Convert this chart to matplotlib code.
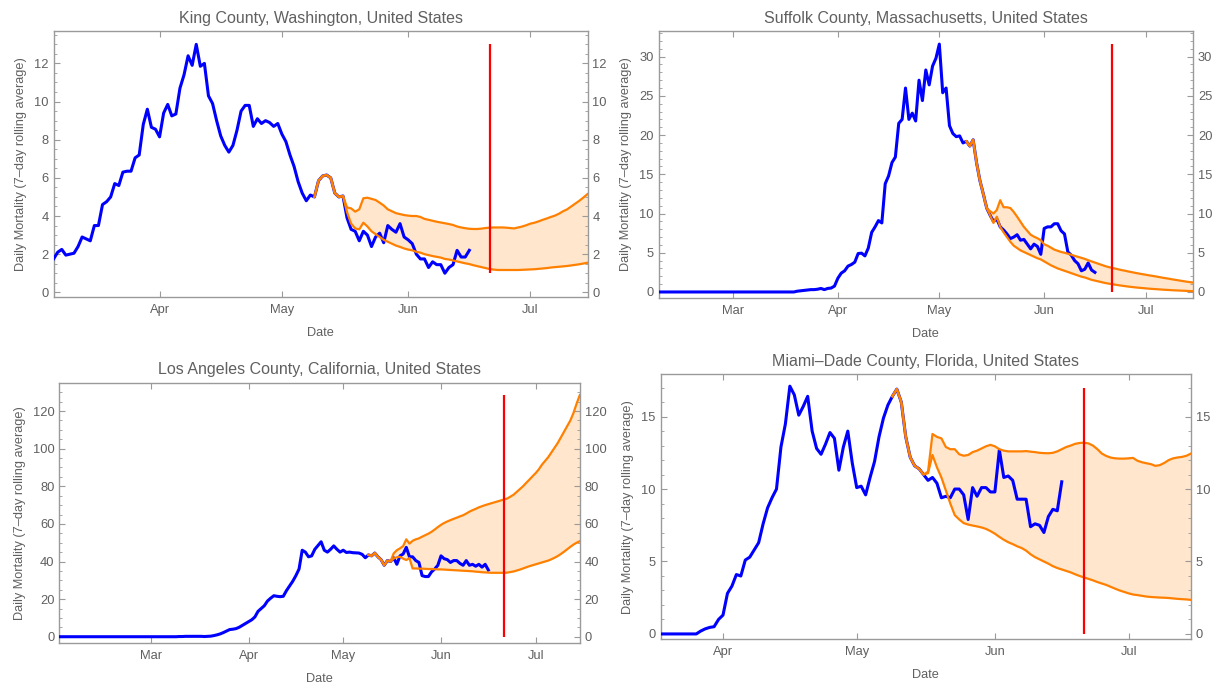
import matplotlib
matplotlib.use("Agg")
import matplotlib.pyplot as plt
import matplotlib.dates as mdates
from matplotlib.ticker import AutoMinorLocator, FixedLocator
import pandas as pd

plt.rcParams['font.family'] = ['Liberation Sans', 'DejaVu Sans']

# common dates
proj_start = "2020-05-09"
cutoff_date = "2020-06-21"
end_date = "2020-07-15"

# King County, WA
king_title = "King County, Washington, United States"
king_start = "2020-03-06"
king_obs = [
    1.75, 2.1, 2.25, 1.95, 2.0, 2.05, 2.4, 2.9, 2.8, 2.7,
    3.5, 3.5, 4.6, 4.75, 5.0, 5.7, 5.6, 6.3, 6.35, 6.35,
    7.05, 7.2, 8.8, 9.6, 8.65, 8.55, 8.15, 9.4, 9.85, 9.25,
    9.35, 10.7, 11.4, 12.4, 11.9, 13.0, 11.85, 12.0, 10.3, 9.9,
    9.0, 8.2, 7.7, 7.35, 7.7, 8.5, 9.5, 9.8, 9.8, 8.7,
    9.1, 8.85, 9.0, 8.9, 8.7, 8.85, 8.3, 7.9, 7.2, 6.6,
    5.8, 5.2, 4.8, 5.1, 5.0, 5.85, 6.1, 6.15, 6.0, 5.2,
    5.0, 5.05, 3.9, 3.3, 3.2, 2.7, 3.2, 3.0, 2.4, 2.9,
    3.1, 2.6, 3.5, 3.3, 3.15, 3.6, 2.9, 2.75, 2.55, 2.0,
    1.75, 1.75, 1.3, 1.6, 1.45, 1.45, 1.0, 1.3, 1.45, 2.2,
    1.85, 1.85, 2.2,
]
king_upper = [
    5.0, 5.85, 6.1, 6.15, 6.0, 5.2, 5.0, 5.05,
    4.45, 4.4, 4.23, 4.35, 4.93, 4.96, 4.9, 4.84, 4.7, 4.55,
    4.35, 4.25, 4.15, 4.1, 4.05, 4.02, 4.0, 4.0, 3.95, 3.85,
    3.8, 3.75, 3.7, 3.66, 3.62, 3.58, 3.53,
    3.45, 3.4, 3.36, 3.33, 3.32, 3.32, 3.34, 3.37, 3.39, 3.4,
    3.4, 3.4, 3.39, 3.37, 3.35, 3.4, 3.45, 3.52, 3.6, 3.65,
    3.72, 3.8, 3.87, 3.95, 4.02, 4.12, 4.25, 4.35, 4.5, 4.65,
    4.8, 4.97, 5.15,
]
king_lower = [
    5.0, 5.85, 6.1, 6.15, 6.0, 5.2, 5.0, 5.05,
    4.2, 3.6, 3.35, 3.3, 3.65, 3.45, 3.2, 3.05, 2.9, 2.75,
    2.65, 2.55, 2.45, 2.38, 2.3, 2.24, 2.2, 2.12, 2.08, 2.0,
    1.95, 1.9, 1.86, 1.82, 1.75, 1.72, 1.67, 1.62, 1.57, 1.52,
    1.48, 1.42, 1.37, 1.32, 1.27, 1.22, 1.19, 1.17, 1.17, 1.17,
    1.17, 1.17, 1.17, 1.18, 1.19, 1.2, 1.21, 1.23, 1.25, 1.27,
    1.3, 1.32, 1.34, 1.36, 1.38, 1.41, 1.44, 1.47, 1.51, 1.55,
]
king_cut = [1.0, 13.0]
king_yticks = [0, 2, 4, 6, 8, 10, 12]

# Suffolk County, MA
suffolk_title = "Suffolk County, Massachusetts, United States"
suffolk_start = "2020-02-08"
suffolk_obs = [
    0, 0, 0, 0, 0, 0, 0, 0, 0, 0,
    0, 0, 0, 0, 0, 0, 0, 0, 0, 0,
    0, 0, 0, 0, 0, 0, 0, 0, 0, 0,
    0, 0, 0, 0, 0, 0, 0, 0, 0, 0,
    0.0, 0.1, 0.15, 0.2, 0.25, 0.3, 0.3, 0.35, 0.45, 0.3,
    0.45, 0.5, 0.75, 1.75, 2.4, 2.7, 3.3, 3.5, 3.8, 4.9,
    4.95, 4.6, 5.6, 7.6, 8.3, 9.1, 8.8, 13.8, 14.8, 16.5,
    17.2, 21.5, 22.0, 26.0, 22.0, 22.8, 21.8, 27.0, 24.4, 28.3,
    26.4, 28.8, 29.8, 31.6, 25.4, 26.0, 21.2, 20.2, 19.8, 19.9,
    19.0, 19.2, 18.6, 19.4, 16.5, 14.2, 12.5, 10.7, 9.8, 9.0,
    9.3, 8.3, 7.9, 7.4, 6.8, 7.0, 7.3, 6.6, 6.7, 6.1,
    5.5, 6.1, 5.8, 4.8, 8.1, 8.3, 8.3, 8.7, 8.7, 7.8,
    7.4, 5.1, 4.7, 4.0, 3.6, 2.7, 2.9, 3.7, 2.8, 2.5,
]
suffolk_upper = [
    19.2, 18.6, 19.4, 16.5, 14.2, 12.5, 10.7,
    10.3, 10.0, 10.45, 11.7, 10.8, 10.8, 10.7, 10.2, 9.6, 8.95,
    8.3, 7.8, 7.3, 7.05, 6.85, 6.6,
    6.08, 5.9, 5.65, 5.4, 5.25, 5.1, 5.0, 4.88, 4.75, 4.6,
    4.48, 4.35, 4.22, 4.05, 3.9, 3.75, 3.6, 3.45, 3.3, 3.18,
    3.08, 2.98, 2.88, 2.78, 2.7, 2.6, 2.52, 2.43, 2.35, 2.27,
    2.2, 2.12, 2.05, 1.98, 1.9, 1.82, 1.75, 1.68, 1.6, 1.53,
    1.46, 1.39, 1.32, 1.26, 1.2,
]
suffolk_lower = [
    19.2, 18.6, 19.4, 16.5, 14.2, 12.5, 10.7,
    9.8, 8.8, 9.6, 8.3, 7.6, 7.0, 6.4, 5.9, 5.6, 5.3,
    5.1, 4.9, 4.7, 4.5, 4.3, 4.15, 3.9, 3.65, 3.4, 3.2,
    3.0, 2.85, 2.7, 2.55, 2.4, 2.25, 2.1, 1.95, 1.85, 1.7,
    1.55, 1.45, 1.35, 1.25, 1.15, 1.07, 1.0, 0.93, 0.86, 0.8,
    0.74, 0.68, 0.63, 0.58, 0.54, 0.5, 0.46, 0.42, 0.39, 0.36,
    0.33, 0.3, 0.27, 0.25, 0.22, 0.2, 0.18, 0.16, 0.14, 0.12,
    0.1,
]
suffolk_cut = [0.0, 31.6]
suffolk_yticks = [0, 5, 10, 15, 20, 25, 30]

# Los Angeles County, CA
la_title = "Los Angeles County, California, United States"
la_start = "2020-02-01"
la_obs = [
    0, 0, 0, 0, 0, 0, 0, 0, 0, 0,
    0, 0, 0, 0, 0, 0, 0, 0, 0, 0,
    0, 0, 0, 0, 0, 0, 0, 0, 0, 0,
    0, 0, 0, 0, 0, 0, 0, 0,
    0.1, 0.1, 0.2, 0.2, 0.2, 0.2, 0.2, 0.2, 0.1, 0.2,
    0.3, 0.6, 1.0, 1.5, 2.2, 3.0, 3.8, 4.0, 4.3, 5.0,
    6.0, 7.0, 8.0, 9.0, 10.5, 13.5, 15.0, 16.5, 19.0, 20.5,
    21.8, 21.5, 21.3, 21.5, 24.5, 27.0, 29.5, 32.5, 36.0, 46.0,
    45.0, 42.5, 43.0, 46.5, 48.5, 50.5, 46.0, 45.0, 46.5, 48.3,
    46.5, 45.0,
    46.0, 44.8, 45.0, 44.7, 44.6, 44.5, 43.8, 42.0, 43.5, 43.0,
    44.5, 42.5, 41.0, 38.0, 40.5, 40.0, 42.0, 38.5, 43.0, 44.0,
    47.5, 42.5, 42.5, 40.5, 39.5, 32.5, 32.0, 32.0, 34.5, 36.0,
    38.0, 43.0, 41.5, 41.0, 39.5, 40.5, 40.5, 39.0, 38.0, 40.5,
    38.0, 38.5, 37.5, 38.5, 37.0, 38.5, 35.5,
]
la_upper = [
    43.5, 43.0, 44.5, 42.5, 41.0, 38.0, 40.5, 40.0,
    44.3, 46.0, 47.0, 48.2, 51.8, 49.5, 51.0, 51.8, 52.3, 53.2,
    54.0, 54.8, 55.8, 57.0, 58.3, 59.5, 60.5, 61.3, 62.0, 62.7,
    63.3, 64.0, 64.6, 65.5, 66.5, 67.3, 68.0, 68.8, 69.4, 70.0,
    70.5, 71.0, 71.5, 72.0, 72.5, 73.0, 73.5, 74.5, 75.5, 77.0,
    78.5, 80.0, 81.8, 83.5, 85.3, 87.0, 89.0, 91.5, 93.5, 95.5,
    98.0, 100.5, 103.0, 106.0, 109.0, 112.0, 115.0, 119.0, 124.0, 128.5,
]
la_lower = [
    43.5, 43.0, 44.5, 42.5, 41.0, 38.0, 40.5, 40.0,
    41.6, 42.3, 42.5, 41.5, 40.8, 41.8, 36.3, 36.3, 36.2, 36.2,
    36.1, 36.0, 36.0, 35.9, 35.8, 35.8, 35.7, 35.6, 35.5, 35.4,
    35.3, 35.2, 35.1, 35.0, 34.9, 34.8, 34.6, 34.5, 34.3, 34.2,
    34.1, 34.0, 34.0, 34.0, 34.0, 34.0, 34.1, 34.4, 34.7, 35.2,
    35.7, 36.3, 36.9, 37.5, 38.0, 38.5, 39.0, 39.5, 40.0, 40.5,
    41.2, 42.0, 42.9, 44.0, 45.2, 46.5, 47.8, 49.0, 50.0, 50.8,
]
la_cut = [0.0, 128.5]
la_yticks = [0, 20, 40, 60, 80, 100, 120]

# Miami-Dade County, FL
miami_title = "Miami\u2013Dade County, Florida, United States"
miami_start = "2020-03-18"
miami_obs = [
    0, 0, 0, 0, 0, 0, 0, 0, 0, 0.2,
    0.35, 0.45, 0.5, 1.0, 1.3, 2.8, 3.3, 4.1, 4.0, 5.1,
    5.3, 5.8, 6.3, 7.6, 8.7, 9.4, 10.0, 12.9, 14.5, 17.1,
    16.5, 15.1, 15.7, 16.4, 14.0, 12.8, 12.4, 13.1, 13.9, 13.5,
    11.3, 12.9, 14.0, 11.8, 10.1, 10.2, 9.6, 10.8, 11.9, 13.6,
    14.9, 15.8, 16.4, 16.9, 16.0, 13.6, 12.2, 11.6, 11.4, 11.0,
    10.6, 10.8, 10.4, 9.4, 9.5, 9.4, 10.0, 10.0, 9.6, 7.9,
    10.1, 9.5, 10.1, 10.1, 9.8, 9.8, 12.7, 10.8, 10.9, 10.6,
    9.3, 9.3, 9.3, 7.4, 7.6, 7.5, 7.0, 8.1, 8.6, 8.5,
    10.5,
]
miami_upper = [
    16.4, 16.9, 16.0, 13.6, 12.2, 11.6, 11.4, 11.0,
    11.2, 13.8, 13.6, 13.5, 12.9, 12.75, 12.75, 12.4, 12.3, 12.35,
    12.55, 12.65, 12.8, 12.95, 13.05, 12.95, 12.75, 12.65, 12.6, 12.6,
    12.6, 12.6, 12.62, 12.58, 12.55, 12.5, 12.48, 12.47, 12.5, 12.6,
    12.75, 12.9, 13.0, 13.12, 13.18, 13.2, 13.15, 13.0, 12.75, 12.45,
    12.28, 12.17, 12.12, 12.1, 12.1, 12.12, 12.15, 11.95, 11.85, 11.78,
    11.72, 11.6, 11.65, 11.8, 12.0, 12.12, 12.18, 12.22, 12.3, 12.45,
]
miami_lower = [
    16.4, 16.9, 16.0, 13.6, 12.2, 11.6, 11.4, 11.0,
    11.1, 12.35, 11.5, 10.8, 9.9, 9.0, 8.2, 7.9, 7.65, 7.55,
    7.48, 7.42, 7.35, 7.25, 7.1, 6.92, 6.7, 6.5, 6.33, 6.2,
    6.05, 5.93, 5.75, 5.5, 5.3, 5.15, 5.0, 4.85, 4.68, 4.55,
    4.45, 4.35, 4.25, 4.12, 4.0, 3.9, 3.8, 3.7, 3.58, 3.48,
    3.38, 3.25, 3.12, 3.0, 2.9, 2.8, 2.72, 2.68, 2.63, 2.58,
    2.55, 2.53, 2.51, 2.5, 2.48, 2.45, 2.42, 2.4, 2.38, 2.35,
]
miami_cut = [0.0, 17.0]
miami_yticks = [0, 5, 10, 15]

W, H = 1213, 687
fig = plt.figure(figsize=(W / 100, H / 100), dpi=100)

txt = '#606060'
frame = '#9a9a9a'


def panel(box, title, start, obs, upper, lower, cut, yticks, ylim):
    l, t, r, b = box
    ax = fig.add_axes([l / W, 1 - b / H, (r - l) / W, (b - t) / H])
    d_obs = pd.date_range(start, periods=len(obs), freq='D')
    d_proj = pd.date_range(proj_start, periods=len(upper), freq='D')
    ax.fill_between(d_proj, lower, upper, color='#ffe6cc', lw=0, zorder=1)
    ax.plot(d_obs, obs, color='#0000ff', lw=2.2, zorder=3)
    ax.plot(d_proj, upper, color='#ff8000', lw=1.6, zorder=4)
    ax.plot(d_proj, lower, color='#ff8000', lw=1.6, zorder=4)
    ax.vlines(pd.Timestamp(cutoff_date), cut[0], cut[1], color='#ff0000', lw=1.6, zorder=5)
    ax.set_xlim(pd.Timestamp(start), pd.Timestamp(end_date))
    ax.set_ylim(*ylim)
    ax.xaxis.set_major_locator(mdates.MonthLocator(bymonth=[3, 4, 5, 6, 7], bymonthday=1))
    ax.xaxis.set_major_formatter(mdates.DateFormatter('%b'))
    ax.yaxis.set_major_locator(FixedLocator(yticks))
    ax.yaxis.set_minor_locator(AutoMinorLocator())
    for s in ax.spines.values():
        s.set_color(frame)
        s.set_linewidth(1.0)
    ax.tick_params(which='both', direction='in', colors=frame, labelcolor=txt,
                   labelsize=9.3, top=True, right=True, labelright=True)
    ax.tick_params(which='major', length=4.5, width=0.8)
    ax.tick_params(which='minor', length=2.5, width=0.6)
    ax.tick_params(axis='x', which='minor', top=False, bottom=False)
    ax.tick_params(axis='x', pad=5)
    ax.set_title(title, fontsize=11.5, color=txt, pad=6)
    ax.set_xlabel('Date', fontsize=9.2, color=txt, labelpad=8)
    ax.set_ylabel('Daily Mortality (7\u2013day rolling average)', fontsize=9.2, color=txt, labelpad=5)
    return ax


panel((53.6, 31, 587.5, 296.7), king_title, king_start, king_obs, king_upper, king_lower,
      king_cut, king_yticks, (-0.23, 13.7))
panel((658.6, 31, 1193, 297.7), suffolk_title, suffolk_start, suffolk_obs, suffolk_upper,
      suffolk_lower, suffolk_cut, suffolk_yticks, (-0.73, 33.27))
panel((59.3, 382.7, 579.8, 643.3), la_title, la_start, la_obs, la_upper, la_lower,
      la_cut, la_yticks, (-3.5, 135.1))
panel((660.6, 374.3, 1191, 639.3), miami_title, miami_start, miami_obs, miami_upper,
      miami_lower, miami_cut, miami_yticks, (-0.37, 17.92))

fig.savefig('out.png', dpi=100)
